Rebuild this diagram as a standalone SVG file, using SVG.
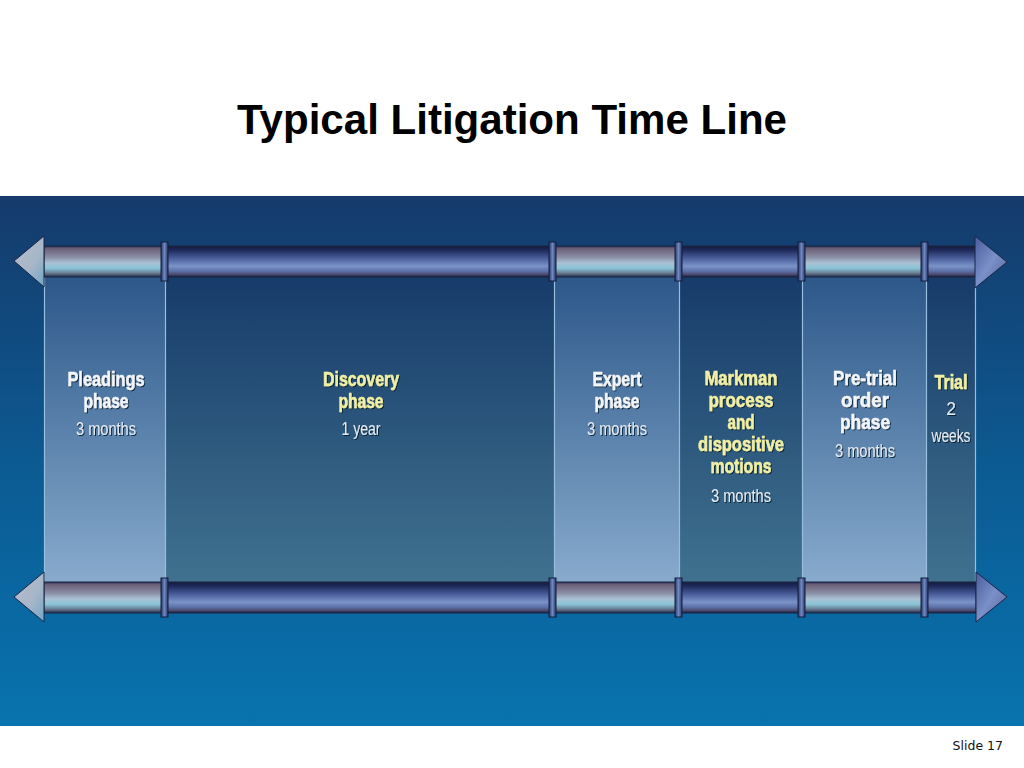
<svg xmlns="http://www.w3.org/2000/svg" width="1024" height="768" viewBox="0 0 1024 768">
<defs>
<linearGradient id="bg" x1="0" y1="0" x2="0" y2="1">
<stop offset="0" stop-color="#153a6b"/>
<stop offset="0.5" stop-color="#0c5a92"/>
<stop offset="1" stop-color="#0873ae"/>
</linearGradient>
<linearGradient id="pLight" x1="0" y1="0" x2="0" y2="1">
<stop offset="0" stop-color="#2c5789"/>
<stop offset="1" stop-color="#88abcd"/>
</linearGradient>
<linearGradient id="pDark" x1="0" y1="0" x2="0" y2="1">
<stop offset="0" stop-color="#173b6a"/>
<stop offset="1" stop-color="#40728f"/>
</linearGradient>
<linearGradient id="sLight" x1="0" y1="0" x2="0" y2="1">
<stop offset="0" stop-color="#2a3050"/>
<stop offset="0.08" stop-color="#6a6078"/>
<stop offset="0.35" stop-color="#8a8ca4"/>
<stop offset="0.55" stop-color="#aac2d4"/>
<stop offset="0.72" stop-color="#8ac4d8"/>
<stop offset="0.88" stop-color="#68788e"/>
<stop offset="1" stop-color="#222a48"/>
</linearGradient>
<linearGradient id="sDark" x1="0" y1="0" x2="0" y2="1">
<stop offset="0" stop-color="#161c3c"/>
<stop offset="0.12" stop-color="#1c2858"/>
<stop offset="0.4" stop-color="#4a5e9c"/>
<stop offset="0.65" stop-color="#7a94c8"/>
<stop offset="0.82" stop-color="#5a6ea6"/>
<stop offset="0.92" stop-color="#4a4a6c"/>
<stop offset="1" stop-color="#161c3c"/>
</linearGradient>
<linearGradient id="headL" x1="0" y1="0" x2="1" y2="1">
<stop offset="0" stop-color="#b8bccc"/>
<stop offset="0.6" stop-color="#a6b6c8"/>
<stop offset="1" stop-color="#70a8c8"/>
</linearGradient>
<linearGradient id="headR" x1="0" y1="0" x2="1" y2="1">
<stop offset="0" stop-color="#4a5c9c"/>
<stop offset="0.5" stop-color="#7a90c8"/>
<stop offset="1" stop-color="#5a6498"/>
</linearGradient>
<linearGradient id="collar" x1="0" y1="0" x2="1" y2="0">
<stop offset="0" stop-color="#28386a"/>
<stop offset="0.5" stop-color="#7088c0"/>
<stop offset="1" stop-color="#28386a"/>
</linearGradient>
<filter id="sh" x="-10%" y="-20%" width="120%" height="140%">
<feDropShadow dx="1" dy="1" stdDeviation="0.7" flood-color="#061a33" flood-opacity="0.9"/>
</filter>
</defs>
<style>
.title{font-family:"Liberation Sans",Arial,sans-serif;font-weight:bold;font-size:43px;fill:#000}
.b{font-family:"Liberation Sans Narrow","Arial Narrow","Liberation Sans",sans-serif;font-weight:bold;font-size:20.5px;text-anchor:middle;stroke-width:0.5}
.w{fill:#f2f5f9;stroke:#f2f5f9}
.y{fill:#f0efa6;stroke:#f0efa6}
.r{font-family:"Liberation Sans Narrow","Arial Narrow","Liberation Sans",sans-serif;font-size:17.5px;fill:#e4ebf3;text-anchor:middle}
.shaft{stroke:#1a2444;stroke-width:1}
.col{fill:url(#collar);stroke:#141c3c;stroke-width:1}
.edge{stroke:#98bedf;stroke-width:1.2}
.foot{font-family:"DejaVu Sans",Tahoma,sans-serif;font-size:12.5px;fill:#111}
</style>
<rect x="0" y="0" width="1024" height="768" fill="#ffffff"/>
<text class="title" x="512" y="134" text-anchor="middle" textLength="550" lengthAdjust="spacingAndGlyphs">Typical Litigation Time Line</text>
<rect x="0" y="196" width="1024" height="530" fill="url(#bg)"/>

<g id="panels">
<rect x="44" y="276" width="121" height="307" fill="url(#pLight)"/>
<rect x="165" y="276" width="389" height="307" fill="url(#pDark)"/>
<rect x="554" y="276" width="125" height="307" fill="url(#pLight)"/>
<rect x="679" y="276" width="123" height="307" fill="url(#pDark)"/>
<rect x="802" y="276" width="124" height="307" fill="url(#pLight)"/>
<rect x="926" y="276" width="50" height="307" fill="url(#pDark)"/>
<line class="edge" x1="44.5" y1="276" x2="44.5" y2="583"/>
<line class="edge" x1="165.5" y1="276" x2="165.5" y2="583"/>
<line class="edge" x1="554.5" y1="276" x2="554.5" y2="583"/>
<line class="edge" x1="679.5" y1="276" x2="679.5" y2="583"/>
<line class="edge" x1="802.5" y1="276" x2="802.5" y2="583"/>
<line class="edge" x1="926.5" y1="276" x2="926.5" y2="583"/>
<line class="edge" x1="975.5" y1="276" x2="975.5" y2="583"/>
</g>

<g id="connectors">
<g id="top-bar">
<rect class="shaft" x="44" y="246" width="121" height="31" fill="url(#sLight)"/>
<rect class="shaft" x="165" y="246" width="389" height="31" fill="url(#sDark)"/>
<rect class="shaft" x="554" y="246" width="125" height="31" fill="url(#sLight)"/>
<rect class="shaft" x="679" y="246" width="123" height="31" fill="url(#sDark)"/>
<rect class="shaft" x="802" y="246" width="124" height="31" fill="url(#sLight)"/>
<rect class="shaft" x="926" y="246" width="50" height="31" fill="url(#sDark)"/>
<polygon points="44,236 14,261 44,287" fill="url(#headL)" stroke="#1a2444" stroke-width="1"/>
<polygon points="975,236 1007,262 975,288" fill="url(#headR)" stroke="#1a2444" stroke-width="1"/>
<rect class="col" x="161" y="242" width="7" height="39"/>
<rect class="col" x="549" y="242" width="7" height="39"/>
<rect class="col" x="675" y="242" width="7" height="39"/>
<rect class="col" x="798" y="242" width="7" height="39"/>
<rect class="col" x="921" y="242" width="7" height="39"/>
</g>
<g id="bottom-bar">
<rect class="shaft" x="44" y="582" width="121" height="31" fill="url(#sLight)"/>
<rect class="shaft" x="165" y="582" width="389" height="31" fill="url(#sDark)"/>
<rect class="shaft" x="554" y="582" width="125" height="31" fill="url(#sLight)"/>
<rect class="shaft" x="679" y="582" width="123" height="31" fill="url(#sDark)"/>
<rect class="shaft" x="802" y="582" width="124" height="31" fill="url(#sLight)"/>
<rect class="shaft" x="926" y="582" width="50" height="31" fill="url(#sDark)"/>
<polygon points="44,572 14,597 44,622" fill="url(#headL)" stroke="#1a2444" stroke-width="1"/>
<polygon points="976,572 1007,597 976,622" fill="url(#headR)" stroke="#1a2444" stroke-width="1"/>
<rect class="col" x="161" y="578" width="7" height="39"/>
<rect class="col" x="549" y="578" width="7" height="39"/>
<rect class="col" x="675" y="578" width="7" height="39"/>
<rect class="col" x="798" y="578" width="7" height="39"/>
<rect class="col" x="921" y="578" width="7" height="39"/>
</g>
</g>

<g id="pleadings" filter="url(#sh)">
<text class="b w" x="106" y="386" textLength="77" lengthAdjust="spacingAndGlyphs">Pleadings</text>
<text class="b w" x="106" y="408" textLength="45" lengthAdjust="spacingAndGlyphs">phase</text>
<text class="r" x="106" y="435" textLength="60" lengthAdjust="spacingAndGlyphs">3 months</text>
</g>
<g id="discovery" filter="url(#sh)">
<text class="b y" x="361" y="386" textLength="76" lengthAdjust="spacingAndGlyphs">Discovery</text>
<text class="b y" x="361" y="408" textLength="45" lengthAdjust="spacingAndGlyphs">phase</text>
<text class="r" x="361" y="435" textLength="39" lengthAdjust="spacingAndGlyphs">1 year</text>
</g>
<g id="expert" filter="url(#sh)">
<text class="b w" x="617" y="386" textLength="49" lengthAdjust="spacingAndGlyphs">Expert</text>
<text class="b w" x="617" y="408" textLength="45" lengthAdjust="spacingAndGlyphs">phase</text>
<text class="r" x="617" y="435" textLength="60" lengthAdjust="spacingAndGlyphs">3 months</text>
</g>
<g id="markman" filter="url(#sh)">
<text class="b y" x="741" y="385" textLength="73" lengthAdjust="spacingAndGlyphs">Markman</text>
<text class="b y" x="741" y="407" textLength="65" lengthAdjust="spacingAndGlyphs">process</text>
<text class="b y" x="741" y="429" textLength="27" lengthAdjust="spacingAndGlyphs">and</text>
<text class="b y" x="741" y="451" textLength="86" lengthAdjust="spacingAndGlyphs">dispositive</text>
<text class="b y" x="741" y="473" textLength="61" lengthAdjust="spacingAndGlyphs">motions</text>
<text class="r" x="741" y="502" textLength="60" lengthAdjust="spacingAndGlyphs">3 months</text>
</g>
<g id="pretrial" filter="url(#sh)">
<text class="b w" x="865" y="385" textLength="64" lengthAdjust="spacingAndGlyphs">Pre-trial</text>
<text class="b w" x="865" y="407" textLength="48" lengthAdjust="spacingAndGlyphs">order</text>
<text class="b w" x="865" y="429" textLength="50" lengthAdjust="spacingAndGlyphs">phase</text>
<text class="r" x="865" y="457" textLength="60" lengthAdjust="spacingAndGlyphs">3 months</text>
</g>
<g id="trial" filter="url(#sh)">
<text class="b y" x="951" y="389" textLength="33" lengthAdjust="spacingAndGlyphs">Trial</text>
<text class="r" x="951" y="415">2</text>
<text class="r" x="951" y="442" textLength="39" lengthAdjust="spacingAndGlyphs">weeks</text>
</g>

<text class="foot" x="1003" y="750" text-anchor="end">Slide 17</text>
</svg>
